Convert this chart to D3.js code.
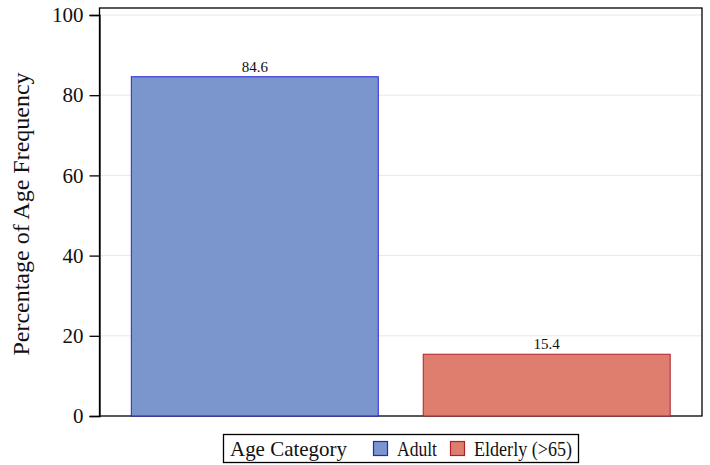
<!DOCTYPE html>
<html><head><meta charset="utf-8">
<script src="https://cdn.jsdelivr.net/npm/d3@7"></script>
<style>body{margin:0;background:#fff}svg{display:block}text{font-family:"Liberation Serif","Times New Roman",serif}</style>
</head><body><svg id="c" width="710" height="465"></svg>
<script>
const categories = ["Adult", "Elderly (>65)"];
const values = [84.6, 15.4];
const yTicks = [0, 20, 40, 60, 80, 100];
const fills = ["#7b96cc", "#de7e6e"];
const strokes = ["#2323d9", "#b0202a"];

const svg = d3.select("#c");
const L = 99.5, R = 702, T = 8, B = 416;
const y = d3.scaleLinear().domain([0, 100]).range([B, 15]);
const x = d3.scaleBand().domain(categories).range([L, R]).paddingInner(0.154).paddingOuter(0.109);

// gridlines
svg.append("g").selectAll("line").data(yTicks.filter(d => d > 0)).join("line")
  .attr("x1", L).attr("x2", R).attr("y1", d => y(d)).attr("y2", d => y(d))
  .attr("stroke", "#e8e8e8").attr("stroke-width", 1);

// frame
svg.append("rect").attr("x", L).attr("y", T).attr("width", R - L).attr("height", B - T)
  .attr("fill", "none").attr("stroke", "#000").attr("stroke-width", 1.3);

// bars
svg.append("g").selectAll("rect").data(categories).join("rect")
  .attr("x", d => x(d)).attr("width", x.bandwidth())
  .attr("y", (d, i) => y(values[i])).attr("height", (d, i) => B - y(values[i]))
  .attr("fill", (d, i) => fills[i]).attr("stroke", (d, i) => strokes[i]).attr("stroke-width", 1);

// bar labels
svg.append("g").selectAll("text").data(categories).join("text")
  .attr("x", d => x(d) + x.bandwidth() / 2).attr("y", (d, i) => y(values[i]) - 5)
  .attr("text-anchor", "middle").attr("font-size", 15).attr("fill", "#111")
  .text((d, i) => values[i].toFixed(1));

// y axis
const yAxis = d3.axisLeft(y).tickValues(yTicks).tickSize(10).tickPadding(6).tickFormat(d3.format("d"));
const ga = svg.append("g").attr("transform", `translate(${L},0)`).call(yAxis);
ga.attr("font-family", null);
ga.select(".domain").attr("stroke", "#000").attr("stroke-width", 1.3);
ga.selectAll(".tick line").attr("stroke", "#000").attr("stroke-width", 1.3);
ga.selectAll(".tick text").attr("font-size", 21).attr("fill", "#111");

// y title
svg.append("text").attr("transform", `translate(29,${(T + B) / 2 + 2}) rotate(-90)`)
  .attr("text-anchor", "middle").attr("font-size", 24).attr("fill", "#111")
  .text("Percentage of Age Frequency");

// legend
const lg = svg.append("g");
lg.append("rect").attr("x", 223.5).attr("y", 434.5).attr("width", 355).attr("height", 28)
  .attr("fill", "#fff").attr("stroke", "#000").attr("stroke-width", 1.3);
lg.append("text").attr("x", 230).attr("y", 456).attr("font-size", 21).attr("fill", "#111")
  .attr("textLength", 117).attr("lengthAdjust", "spacingAndGlyphs").text("Age Category");
const lx = [373, 450];
const lw = [40, 98];
categories.forEach((c, i) => {
  lg.append("rect").attr("x", lx[i] + 0.5).attr("y", 441.5).attr("width", 14).attr("height", 14)
    .attr("fill", fills[i]).attr("stroke", strokes[i]).attr("stroke-width", 1.2);
  lg.append("text").attr("x", lx[i] + 24).attr("y", 456).attr("font-size", 21).attr("fill", "#111")
    .attr("textLength", lw[i]).attr("lengthAdjust", "spacingAndGlyphs").text(c);
});
</script></body></html>
